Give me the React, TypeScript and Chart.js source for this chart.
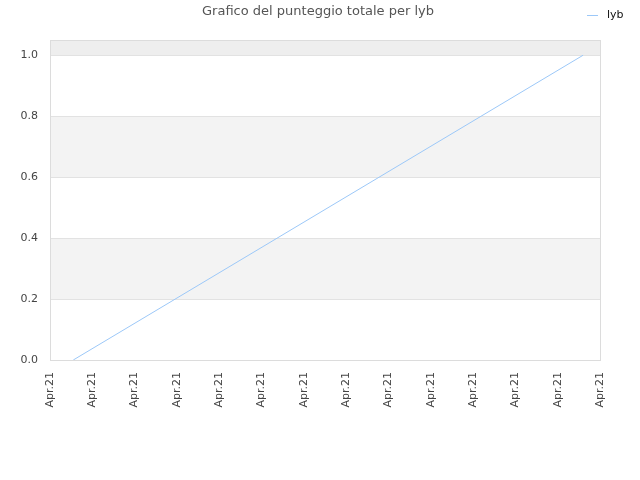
import { useEffect, useRef } from 'react'
import { Chart, registerables } from 'chart.js'
Chart.register(...registerables)

const TITLE = 'Grafico del punteggio totale per lyb'
const SERIES_NAME = 'lyb'
const X_TICK_LABEL = 'Apr.21'
const X_TICK_COUNT = 14
const pointX = [0.55, 12.6]
const pointY = [0, 1]
const Y_MAX = 1.05
const bands: [number, number, string][] = [
  [1.0, 1.05, '#eeeeee'],
  [0.6, 0.8, '#f3f3f3'],
  [0.2, 0.4, '#f3f3f3'],
]

const FONT = "'DejaVu Sans', sans-serif"
const LINE = '#9cc8f8'

const decor = {
  id: 'decor',
  beforeDraw(chart: Chart) {
    const { ctx, chartArea: a, scales } = chart
    const y = scales.y
    ctx.save()
    bands.forEach(([lo, hi, c]) => {
      const t = y.getPixelForValue(hi), b = y.getPixelForValue(lo)
      ctx.fillStyle = c
      ctx.fillRect(a.left, t, a.right - a.left, b - t)
    })
    ctx.restore()
  },
  afterDraw(chart: Chart) {
    const { ctx, chartArea: a, width } = chart
    ctx.save()
    ctx.strokeStyle = '#dcdcdc'
    ctx.lineWidth = 1
    ctx.strokeRect(a.left + 0.5, a.top + 0.5, a.right - a.left, a.bottom - a.top)
    // title
    ctx.fillStyle = '#555'
    ctx.font = `13px ${FONT}`
    ctx.textAlign = 'center'
    ctx.textBaseline = 'middle'
    ctx.fillText(TITLE, width / 2 - 2, 12)
    // legend
    ctx.strokeStyle = LINE
    ctx.beginPath()
    ctx.moveTo(587, 15.5)
    ctx.lineTo(598, 15.5)
    ctx.stroke()
    ctx.fillStyle = '#111'
    ctx.font = `11px ${FONT}`
    ctx.textAlign = 'left'
    ctx.fillText(SERIES_NAME, 607, 15)
    ctx.restore()
  },
}

export default function App() {
  const ref = useRef<HTMLCanvasElement>(null)

  useEffect(() => {
    if (!ref.current) return
    const chart = new Chart(ref.current, {
      type: 'line',
      data: {
        datasets: [{
          label: SERIES_NAME,
          data: pointX.map((x, i) => ({ x, y: pointY[i] })),
          borderColor: LINE,
          borderWidth: 1,
          pointRadius: 0,
          fill: false,
          tension: 0,
        }],
      },
      options: {
        animation: false,
        responsive: false,
        devicePixelRatio: 1,
        layout: { padding: { top: 40, right: 40, left: 0, bottom: 0 } },
        plugins: { legend: { display: false }, title: { display: false }, tooltip: { enabled: false } },
        scales: {
          x: {
            type: 'linear', min: 0, max: X_TICK_COUNT - 1,
            grid: { display: false, drawTicks: false },
            border: { display: false },
            afterFit: (s: any) => { s.height = 120 },
            ticks: {
              stepSize: 1, autoSkip: false, minRotation: 90, maxRotation: 90, padding: 12,
              color: '#444', font: { size: 11, family: FONT },
              callback: () => X_TICK_LABEL,
            },
          },
          y: {
            min: 0, max: Y_MAX,
            grid: { color: '#e2e2e2', drawTicks: false },
            border: { display: false },
            afterFit: (s: any) => { s.width = 50 },
            afterBuildTicks: (s: any) => { s.ticks = s.ticks.filter((t: any) => t.value <= 1.0001) },
            ticks: {
              stepSize: 0.2, padding: 12,
              color: '#444', font: { size: 11, family: FONT },
              callback: (v: any) => (+v).toFixed(1),
            },
          },
        },
      },
      plugins: [decor],
    })
    return () => { chart.destroy() }
  }, [])

  return (
    <div style={{ position: 'fixed', left: 0, top: 0, width: 640, height: 480, background: '#fff' }}>
      <canvas ref={ref} width={640} height={480} />
    </div>
  )
}
